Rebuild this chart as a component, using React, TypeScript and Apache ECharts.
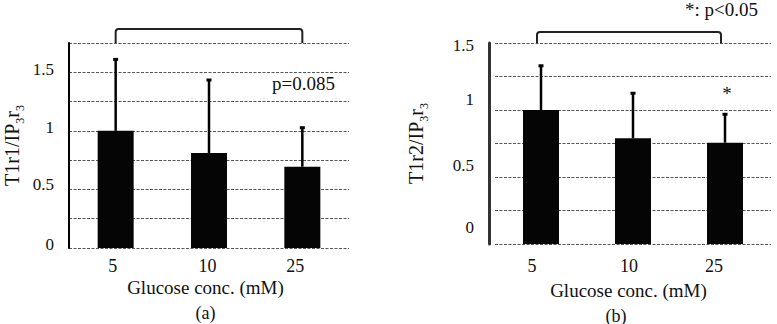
import React, { useEffect, useRef } from "react";
import * as echarts from "echarts";

// Glucose concentrations (mM)
const categories = ["5", "10", "25"];

// Panel (a): T1r1 / IP3r3 expression ratio
const meanT1r1 = [1.0, 0.81, 0.694];
const sdT1r1 = [0.61, 0.624, 0.333];

// Panel (b): T1r2 / IP3r3 expression ratio
const meanT1r2 = [1.0, 0.79, 0.756];
const sdT1r2 = [0.33, 0.335, 0.212];
const sigT1r2 = ["", "", "*"];

// Comparison brackets: [from category index, to category index]
const bracketA = [[0, 2]];
const bracketB = [[0, 2]];

// Y axis ranges and tick labels
const yMaxA = 1.75;
const yMaxB = 1.5;
const yStep = 0.25;
const yLabels = [0, 0.5, 1, 1.5];

const FONT = '"Liberation Serif", "Times New Roman", serif';
const INK = "#111";

// vertical nudges of tick labels (px, positive = up)
const yLabelLiftA: Record<string, number> = { "0": 4, "0.5": 4.5, "1": 3, "1.5": 3 };
const yLabelLiftB: Record<string, number> = { "0": 16.5, "0.5": 12, "1": 11, "1.5": -2 };
// horizontal nudges of category labels (px, negative = left)
const xLabelShiftA = [-3, -1.5, -7];
const xLabelShiftB = [-9, -4, -11];

function yRich(lift: Record<string, number>) {
  const rich: Record<string, any> = {};
  yLabels.forEach((v, i) => {
    const s = lift[String(v)] || 0;
    rich["y" + i] = {
      fontSize: 17,
      fontFamily: FONT,
      color: INK,
      padding: s >= 0 ? [0, 0, 2 * s, 0] : [-2 * s, 0, 0, 0],
    };
  });
  return rich;
}

function xRich(shift: number[]) {
  const rich: Record<string, any> = {};
  shift.forEach((s, i) => {
    rich["x" + i] = {
      fontSize: 18,
      fontFamily: FONT,
      color: INK,
      padding: s <= 0 ? [0, -2 * s, 0, 0] : [0, 0, 0, 2 * s],
    };
  });
  return rich;
}

function yFormatter(v: number) {
  const i = yLabels.findIndex((t) => Math.abs(t - v) < 1e-9);
  return i < 0 ? "" : `{y${i}|${v}}`;
}

function xFormatter(v: string, i: number) {
  return `{x${i}|${v}}`;
}

function errorRenderer(marks?: string[]) {
  return (_params: any, api: any) => {
    const i = api.value(0);
    const m = api.value(1);
    const base = api.coord([i, m]);
    const top = api.coord([i, m + api.value(2)]);
    const children: any[] = [
      {
        type: "line",
        shape: { x1: base[0], y1: base[1], x2: top[0], y2: top[1] },
        style: { stroke: "#000", lineWidth: 2.5 },
      },
      {
        type: "rect",
        shape: { x: top[0] - 2.5, y: top[1] - 1.5, width: 5, height: 3 },
        style: { fill: "#000" },
      },
    ];
    if (marks && marks[i]) {
      children.push({
        type: "text",
        x: top[0] + 2,
        y: top[1] - 21,
        style: {
          text: marks[i],
          font: `19px ${FONT}`,
          fill: INK,
          align: "center",
          verticalAlign: "middle",
        },
      });
    }
    return { type: "group", children };
  };
}

function bracketRenderer(yTop: number, rise: number, dx: number) {
  return (_params: any, api: any) => {
    const l = api.coord([api.value(0), yTop]);
    const r = api.coord([api.value(1), yTop]);
    const x1 = l[0] + dx;
    const x2 = r[0] + dx;
    const yb = l[1];
    const yt = yb - rise;
    const rad = 3;
    const d =
      `M${x1},${yb} L${x1},${yt + rad} Q${x1},${yt} ${x1 + rad},${yt} ` +
      `L${x2 - rad},${yt} Q${x2},${yt} ${x2},${yt + rad} L${x2},${yb}`;
    return {
      type: "path",
      shape: { pathData: d },
      style: { stroke: "#222", lineWidth: 2, fill: "none" },
    };
  };
}

const splitLine = {
  show: true,
  lineStyle: { color: "#555", width: 1, type: [3, 1.5] as any },
};

export default function App() {
  const ref = useRef<HTMLDivElement>(null);

  useEffect(() => {
    if (!ref.current) return;
    const chart = echarts.init(ref.current, null, { renderer: "svg" });

    const yName = (idx: string) => `T1r${idx}/IP{s|3}r{s|3}`;
    const yNameStyle = {
      fontSize: 20,
      fontFamily: FONT,
      color: INK,
      rich: { s: { fontSize: 12, fontFamily: FONT, color: INK, padding: [16, 0, 0, 0] } },
    };

    const xName = (tag: string) => `{n|Glucose conc. (mM)}\n{p|${tag}}`;

    const xAxisBase = {
      type: "category",
      data: categories,
      axisLine: { show: false },
      axisTick: { show: false },
      nameLocation: "middle",
      nameMoveOverlap: false,
    };

    const option: any = {
      animation: false,
      backgroundColor: "#fff",
      textStyle: { fontFamily: FONT, color: INK },
      grid: [
        { left: 69, right: 428, top: 43, bottom: 76, outerBoundsMode: "none" },
        { left: 495, right: 6, top: 43, bottom: 80, outerBoundsMode: "none" },
      ],
      xAxis: [
        {
          ...xAxisBase,
          gridIndex: 0,
          axisLabel: {
            margin: 9,
            fontFamily: FONT,
            fontSize: 18,
            color: INK,
            formatter: xFormatter,
            rich: xRich(xLabelShiftA),
          },
          name: xName("(a)"),
          nameGap: 27,
          nameTextStyle: {
            fontFamily: FONT,
            color: INK,
            lineHeight: 25,
            rich: {
              n: { fontSize: 19, fontFamily: FONT, color: INK, lineHeight: 25, padding: [0, 7, 0, 0] },
              p: { fontSize: 18, fontFamily: FONT, color: INK, lineHeight: 25, padding: [0, 7, 0, 0] },
            },
          },
        },
        {
          ...xAxisBase,
          gridIndex: 1,
          axisLabel: {
            margin: 13,
            fontFamily: FONT,
            fontSize: 18,
            color: INK,
            formatter: xFormatter,
            rich: xRich(xLabelShiftB),
          },
          name: xName("(b)"),
          nameGap: 34,
          nameTextStyle: {
            fontFamily: FONT,
            color: INK,
            lineHeight: 25,
            rich: {
              n: { fontSize: 19, fontFamily: FONT, color: INK, lineHeight: 25, padding: [0, 9, 0, 0] },
              p: { fontSize: 18, fontFamily: FONT, color: INK, lineHeight: 25, padding: [0, 34, 0, 0] },
            },
          },
        },
      ],
      yAxis: [
        {
          type: "value",
          gridIndex: 0,
          min: 0,
          max: yMaxA,
          interval: yStep,
          axisLine: { show: true, lineStyle: { color: "#000", width: 2 } },
          axisTick: { show: false },
          splitLine,
          axisLabel: {
            margin: 15,
            fontFamily: FONT,
            fontSize: 17,
            color: INK,
            formatter: yFormatter,
            rich: yRich(yLabelLiftA),
          },
          name: yName("1"),
          nameLocation: "middle",
          nameMoveOverlap: false,
          nameRotate: 90,
          nameGap: 43,
          nameTextStyle: yNameStyle,
        },
        {
          type: "value",
          gridIndex: 1,
          min: 0,
          max: yMaxB,
          interval: yStep,
          offset: 6,
          axisLine: { show: true, lineStyle: { color: "#333", width: 3 } },
          axisTick: { show: false },
          splitLine,
          axisLabel: {
            margin: 15,
            fontFamily: FONT,
            fontSize: 17,
            color: INK,
            formatter: yFormatter,
            rich: yRich(yLabelLiftB),
          },
          name: yName("2"),
          nameLocation: "middle",
          nameMoveOverlap: false,
          nameRotate: 90,
          nameGap: 59,
          nameTextStyle: yNameStyle,
        },
      ],
      series: [
        {
          type: "bar",
          xAxisIndex: 0,
          yAxisIndex: 0,
          data: meanT1r1,
          barWidth: 36,
          itemStyle: { color: "#050505" },
          z: 2,
        },
        {
          type: "custom",
          xAxisIndex: 0,
          yAxisIndex: 0,
          clip: false,
          z: 3,
          data: meanT1r1.map((m, i) => [i, m, sdT1r1[i]]),
          renderItem: errorRenderer(),
        },
        {
          type: "custom",
          xAxisIndex: 0,
          yAxisIndex: 0,
          clip: false,
          z: 3,
          data: bracketA,
          renderItem: bracketRenderer(yMaxA, 14, 0),
        },
        {
          type: "bar",
          xAxisIndex: 1,
          yAxisIndex: 1,
          data: meanT1r2,
          barWidth: 36,
          itemStyle: { color: "#050505" },
          z: 2,
        },
        {
          type: "custom",
          xAxisIndex: 1,
          yAxisIndex: 1,
          clip: false,
          z: 3,
          data: meanT1r2.map((m, i) => [i, m, sdT1r2[i]]),
          renderItem: errorRenderer(sigT1r2),
        },
        {
          type: "custom",
          xAxisIndex: 1,
          yAxisIndex: 1,
          clip: false,
          z: 3,
          data: bracketB,
          renderItem: bracketRenderer(yMaxB, 11, -4),
        },
      ],
      graphic: [
        {
          type: "text",
          x: 272,
          y: 83,
          style: {
            text: "p=0.085",
            font: `19px ${FONT}`,
            fill: INK,
            align: "left",
            verticalAlign: "middle",
          },
        },
        {
          type: "text",
          x: 685,
          y: 9,
          style: {
            text: "*: p<0.05",
            font: `19px ${FONT}`,
            fill: INK,
            align: "left",
            verticalAlign: "middle",
          },
        },
      ],
    };

    chart.setOption(option);
    return () => chart.dispose();
  }, []);

  return (
    <div
      ref={ref}
      style={{ position: "fixed", left: 0, top: 0, width: 777, height: 324, background: "#fff" }}
    />
  );
}
